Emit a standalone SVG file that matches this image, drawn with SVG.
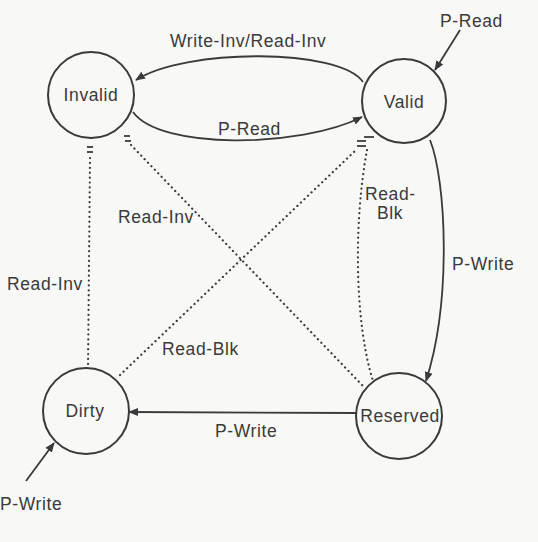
<svg xmlns="http://www.w3.org/2000/svg" width="538" height="542" viewBox="0 0 538 542">
<defs>
<style>
.node{fill:none;stroke:#3a3a3a;stroke-width:2}
.lbl{font-family:"Liberation Sans",Arial,sans-serif;font-size:17.5px;letter-spacing:0.6px;fill:#3a3a3a}
.solid{fill:none;stroke:#3a3a3a;stroke-width:1.8}
.dot{fill:none;stroke:#3a3a3a;stroke-width:2.2;stroke-dasharray:0.1 4.8;stroke-linecap:round}
.tick{stroke:#3a3a3a;stroke-width:1.8}
</style>
<marker id="ah" viewBox="0 0 10 10" refX="9" refY="5" markerWidth="10" markerHeight="10" markerUnits="userSpaceOnUse" orient="auto">
<path d="M0,1 L10,5 L0,9 Z" fill="#3a3a3a"/>
</marker>
</defs>
<rect width="538" height="542" fill="#f8f8f6"/>
<g id="connectors">
<path class="solid" d="M363 82 C340 48 185 48 136 80" marker-end="url(#ah)"/>
<path class="solid" d="M133 112 C160 150 300 148 362 117" marker-end="url(#ah)"/>
<path class="solid" d="M460 30 L435 70" marker-end="url(#ah)"/>
<path class="solid" d="M430 140 C446 180 452 300 426 381" marker-end="url(#ah)"/>
<path class="solid" d="M357 413 L129 412" marker-end="url(#ah)"/>
<path class="solid" d="M26 481 L54 443" marker-end="url(#ah)"/>
<path class="dot" d="M90 158 L88 368"/>
<path class="dot" d="M131 145 L363 386"/>
<path class="dot" d="M120 375 L356 150"/>
<path class="dot" d="M367 150 C354 220 354 320 373 381"/>
<line class="tick" x1="87" y1="147" x2="93" y2="147"/>
<line class="tick" x1="87" y1="152" x2="93" y2="152"/>
<line class="tick" x1="124" y1="136" x2="130" y2="136"/>
<line class="tick" x1="125" y1="141" x2="131" y2="141"/>
<line class="tick" x1="357" y1="141" x2="366" y2="141"/>
<line class="tick" x1="357" y1="146" x2="366" y2="146"/>
<line class="tick" x1="364" y1="137" x2="374" y2="137"/>
</g>
<g id="invalid"><circle class="node" cx="91" cy="95" r="43"/><text class="lbl" x="91" y="101" text-anchor="middle">Invalid</text></g>
<g id="valid"><circle class="node" cx="404" cy="101" r="42"/><text class="lbl" x="404" y="108" text-anchor="middle">Valid</text></g>
<g id="dirty"><circle class="node" cx="86" cy="411" r="43"/><text class="lbl" x="85" y="417" text-anchor="middle">Dirty</text></g>
<g id="reserved"><circle class="node" cx="399" cy="416" r="43"/><text class="lbl" x="400" y="422" text-anchor="middle">Reserved</text></g>
<g id="labels">
<text class="lbl" x="170" y="47">Write-Inv/Read-Inv</text>
<text class="lbl" x="218" y="135">P-Read</text>
<text class="lbl" x="440" y="27">P-Read</text>
<text class="lbl" x="118" y="223">Read-Inv</text>
<text class="lbl" x="365" y="200">Read-</text>
<text class="lbl" x="377" y="219">Blk</text>
<text class="lbl" x="452" y="270">P-Write</text>
<text class="lbl" x="7" y="290">Read-Inv</text>
<text class="lbl" x="162" y="355">Read-Blk</text>
<text class="lbl" x="215" y="437">P-Write</text>
<text class="lbl" x="0" y="510">P-Write</text>
</g>
</svg>
